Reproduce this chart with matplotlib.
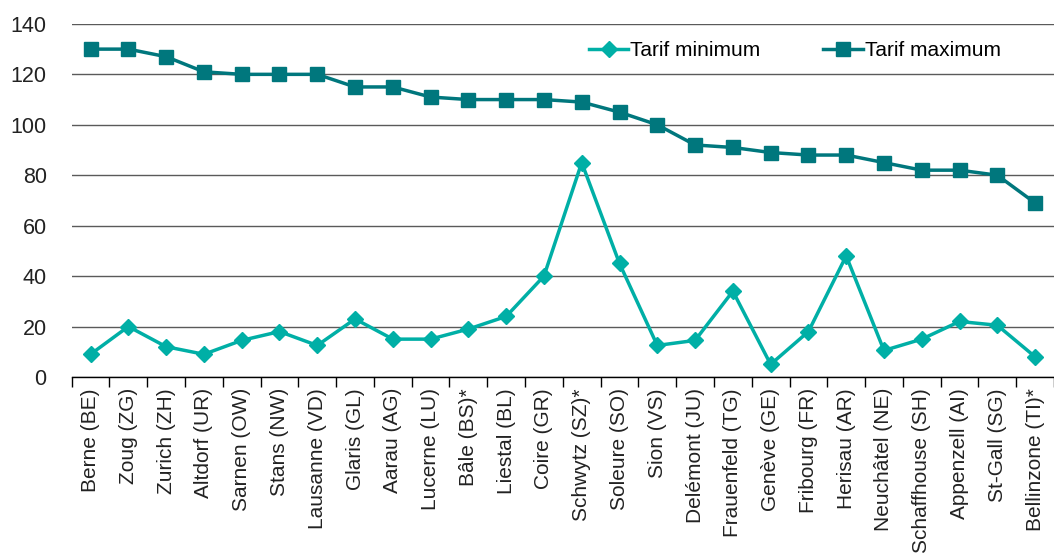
import numpy as np
import matplotlib
matplotlib.use('Agg')
import matplotlib.pyplot as plt

plt.rcParams['font.family'] = ['Liberation Sans', 'DejaVu Sans']

# tariffs by city (canton)
villes = ['Berne (BE)', 'Zoug (ZG)', 'Zurich (ZH)', 'Altdorf (UR)', 'Sarnen (OW)',
          'Stans (NW)', 'Lausanne (VD)', 'Glaris (GL)', 'Aarau (AG)', 'Lucerne (LU)',
          'Bâle (BS)*', 'Liestal (BL)', 'Coire (GR)', 'Schwytz (SZ)*', 'Soleure (SO)',
          'Sion (VS)', 'Delémont (JU)', 'Frauenfeld (TG)', 'Genève (GE)', 'Fribourg (FR)',
          'Herisau (AR)', 'Neuchâtel (NE)', 'Schaffhouse (SH)', 'Appenzell (AI)',
          'St-Gall (SG)', 'Bellinzone (TI)*']
tarif_min = [9, 20, 12, 9, 14.5, 18, 12.5, 23, 15, 15, 19, 24, 40, 85, 45,
             12.5, 14.5, 34, 5, 18, 48, 10.5, 15, 22, 20.5, 8]
tarif_max = [130, 130, 127, 121, 120, 120, 120, 115, 115, 111, 110, 110, 110, 109, 105,
             100, 92, 91, 89, 88, 88, 85, 82, 82, 80, 69]

c_min = '#00AFA6'
c_max = '#00777D'

fig = plt.figure(figsize=(10.54, 5.56), dpi=100)
ax = fig.add_axes([0.068, 0.322, 0.932, 0.635])

x = np.arange(len(villes))
ax.plot(x, tarif_min, color=c_min, lw=2.5, marker='D', ms=8, label='Tarif minimum', clip_on=False)
ax.plot(x, tarif_max, color=c_max, lw=2.5, marker='s', ms=9.5, label='Tarif maximum', clip_on=False)

ax.set_xlim(-0.5, len(villes) - 0.5)
ax.set_ylim(0, 140)
ax.set_yticks(np.arange(0, 141, 20))
ax.yaxis.grid(True, color='#5a5a5a', lw=1)
ax.set_axisbelow(True)
ax.tick_params(axis='y', length=0, labelsize=15.5, pad=18, labelcolor='#222222')

ax.set_xticks(x)
ax.set_xticklabels(villes, rotation=90, fontsize=15, color='#222222')
ax.set_xticks(np.arange(-0.5, len(villes), 1), minor=True)
ax.tick_params(axis='x', which='major', length=0, pad=8)
ax.tick_params(axis='x', which='minor', length=7, width=1, direction='out')

for s in ['top', 'right', 'left']:
    ax.spines[s].set_visible(False)
ax.spines['bottom'].set_linewidth(1)

ax.legend(loc='upper right', ncol=2, frameon=False, fontsize=15, handlelength=1.9,
          handletextpad=0.1, columnspacing=3.0, bbox_to_anchor=(0.965, 1.005))

fig.savefig('out.png', dpi=100)
